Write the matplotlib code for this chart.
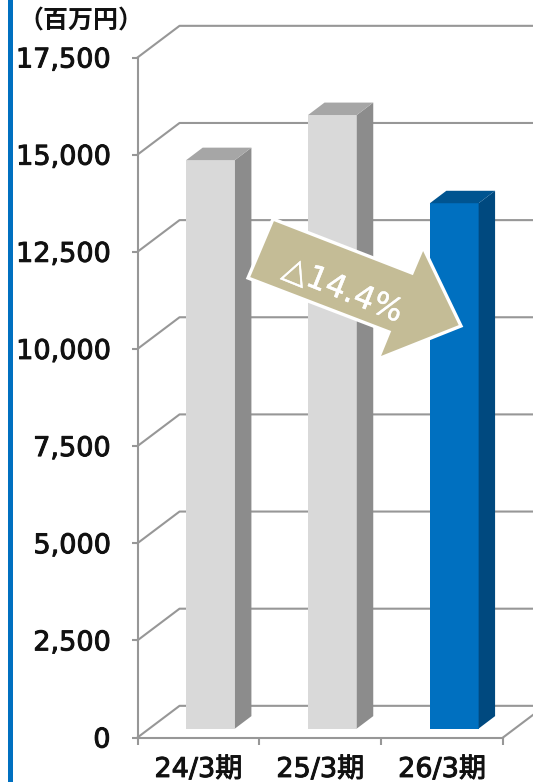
import matplotlib
matplotlib.use("Agg")
import matplotlib.pyplot as plt
import matplotlib.patheffects as pe
from matplotlib.patches import Polygon, Rectangle
from matplotlib.transforms import Affine2D

plt.rcParams['font.family'] = ['DejaVu Sans', 'Noto Sans CJK JP']

categories = ["24/3期", "25/3期", "26/3期"]
sales = [14630, 15790, 13520]
y_ticks = [0, 2500, 5000, 7500, 10000, 12500, 15000, 17500]

W, H = 533, 782
GRID = "#979797"
TEXT = "#111111"

fig = plt.figure(figsize=(W / 100, H / 100), dpi=100)
# pixel coords from the top left, for the things that are not data
px = Affine2D().scale(1, -1).translate(0, H)

left, right, top, bottom = 137.5, 503, 57.5, 737.5
ax = fig.add_axes([left / W, 1 - bottom / H, (right - left) / W, (bottom - top) / H])
ax.set_xlim(0, 3)
ax.set_ylim(0, 17500)
ax.patch.set_visible(False)

# depth of the fake 3d box, in data units
wall_dx, wall_dy = 0.345, 815
bar_dx, bar_dy = 0.135, 320
bar_base = 230
bar_w = 0.4
bar_shift = 0.1

fig.add_artist(Rectangle((8, 0), 4.8, H, transform=px, color="#0070C0", lw=0))

for t in y_ticks:
    ax.plot([0, wall_dx, 3.3], [t, t + wall_dy, t + wall_dy], color=GRID, lw=1.5, clip_on=False, zorder=1)
ax.plot([3, 3 + wall_dx], [0, wall_dy], color=GRID, lw=1.5, clip_on=False, zorder=1)

colors = [("#D9D9D9", "#8C8C8C", "#A6A6A6"), ("#D9D9D9", "#8C8C8C", "#A6A6A6"), ("#0070C0", "#00497F", "#005490")]
for i, v in enumerate(sales):
    mid = i + 0.5 + bar_shift
    x0 = mid - bar_w / 2
    x1 = x0 + bar_w
    vtop = v + bar_base
    front, side, roof = colors[i]
    ax.bar(mid, v, bar_w, bottom=bar_base, color=front, zorder=3)
    ax.fill([x1, x1 + bar_dx, x1 + bar_dx, x1], [bar_base, bar_base + bar_dy, vtop + bar_dy, vtop], color=side, lw=0, zorder=3)
    ax.fill([x0, x1, x1 + bar_dx, x0 + bar_dx], [vtop, vtop, vtop + bar_dy, vtop + bar_dy], color=roof, lw=0, zorder=3)

for s in ["top", "right"]:
    ax.spines[s].set_visible(False)
for s in ["left", "bottom"]:
    ax.spines[s].set_color(GRID)
    ax.spines[s].set_linewidth(1.5)
    ax.spines[s].set_zorder(2)

heavy = [pe.withStroke(linewidth=0.7, foreground=TEXT)]
ax.set_yticks(y_ticks)
ax.set_yticklabels([f"{t:,}" for t in y_ticks], fontsize=19.5, color=TEXT, path_effects=heavy)
ax.set_xticks([0, 1, 2, 3])
ax.set_xticks([0.5, 1.5, 2.5], minor=True)
ax.set_xticklabels([])
ax.set_xticklabels(categories, minor=True, fontsize=19.5, color=TEXT, path_effects=heavy)
ax.tick_params(axis="y", length=4.5, width=1.5, color=GRID, pad=15)
ax.tick_params(axis="x", which="major", length=5, width=1.5, color=GRID)
ax.tick_params(axis="x", which="minor", length=0, pad=14)

fig.text(81, 21.5, "（百万円）", transform=px, fontsize=18, color=TEXT, ha="center", va="center", family="Noto Sans CJK JP", weight="bold")

arrow = [(273, 219), (412, 273), (423, 247), (461, 326), (378, 359), (389, 332), (248, 278)]
fig.add_artist(Polygon(arrow, closed=True, transform=px, facecolor="#C4BC96", edgecolor="white", lw=2.4, joinstyle="miter", zorder=5))
fig.text(343, 291, "△14.4%", transform=px, rotation=-22, rotation_mode="anchor", fontsize=23, color="white", ha="center", va="center", zorder=6,
         path_effects=[pe.withStroke(linewidth=0.3, foreground="white")])

fig.savefig("out.png", dpi=100)
